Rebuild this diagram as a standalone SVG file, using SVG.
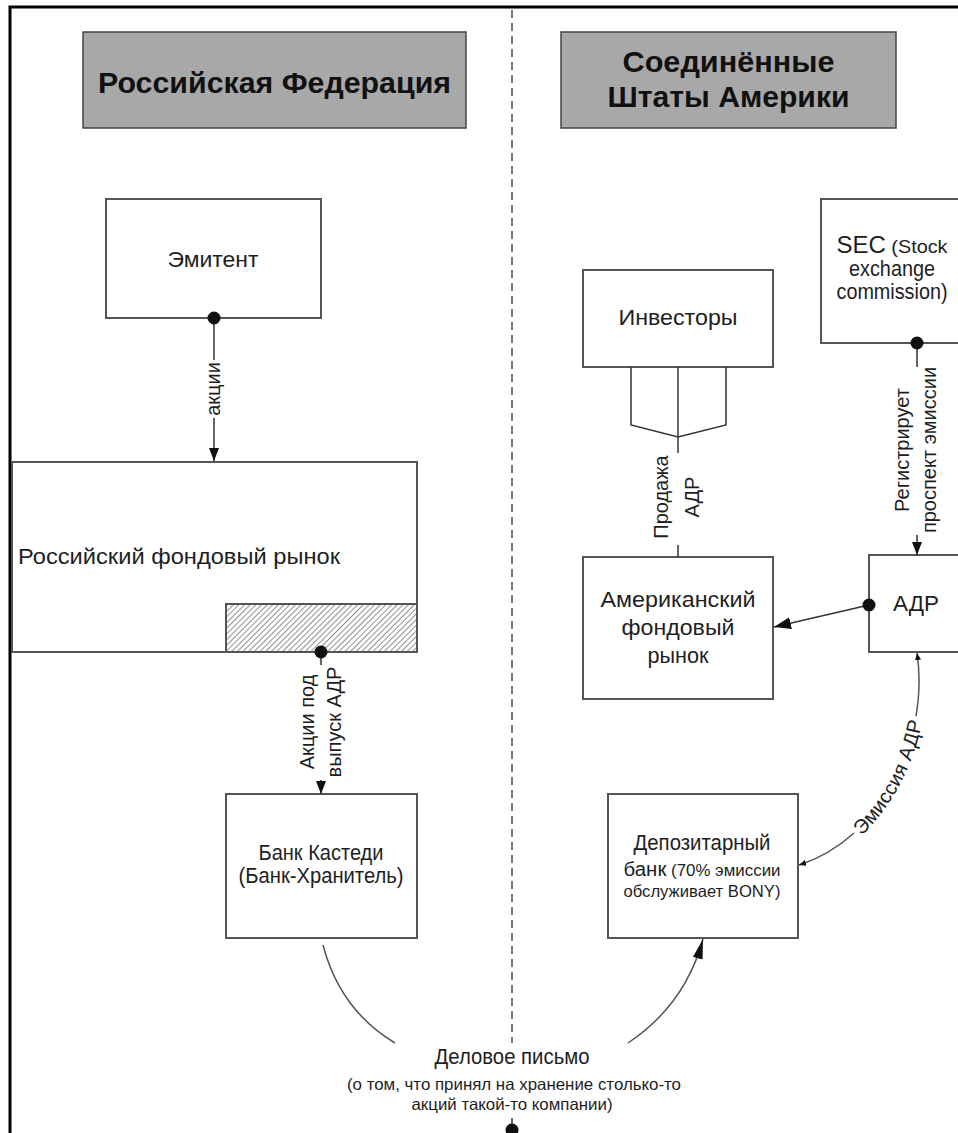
<svg xmlns="http://www.w3.org/2000/svg" width="958" height="1133" viewBox="0 0 958 1133">
<style>
.t{font-family:"Liberation Sans",Arial,sans-serif;font-size:22px;fill:#1e1e1e}
.s{font-size:16.5px}
.l{font-size:20px}
.h{font-family:"Liberation Sans",Arial,sans-serif;font-size:30px;font-weight:bold;fill:#111}
.box{fill:#fff;stroke:#555;stroke-width:2}
.hdr{fill:#a8a8a8;stroke:#444;stroke-width:1.5}
.c{fill:none;stroke:#333;stroke-width:1.5}
.cv{fill:none;stroke:#555;stroke-width:1.5}
.bg{fill:#fff}
.dot{fill:#111}
.halo{fill:#fff;stroke:#fff;stroke-width:10;stroke-linejoin:round}
</style>
<defs>
<pattern id="hatch" patternUnits="userSpaceOnUse" width="4" height="4" patternTransform="rotate(45)">
<line x1="0" y1="0" x2="0" y2="4" stroke="#222" stroke-width="1"/>
</pattern>
<marker id="arr" markerUnits="userSpaceOnUse" markerWidth="13" markerHeight="10" refX="13" refY="5" orient="auto" viewBox="0 0 13 10">
<path d="M0 0 L13 5 L0 10 Z" fill="#111"/>
</marker>
<marker id="arrL" markerUnits="userSpaceOnUse" markerWidth="17" markerHeight="12" refX="17" refY="6" orient="auto" viewBox="0 0 17 12">
<path d="M0 0 L17 6 L0 12 Z" fill="#111"/>
</marker>
<marker id="arrC" markerUnits="userSpaceOnUse" markerWidth="20" markerHeight="10" refX="20" refY="5" orient="auto" viewBox="0 0 20 10">
<path d="M0 0 L20 5 L0 10 Z" fill="#111"/>
</marker>
<marker id="arrS" markerUnits="userSpaceOnUse" markerWidth="7" markerHeight="6" refX="7" refY="3" orient="auto" viewBox="0 0 7 6">
<path d="M0 0 L7 3 L0 6 Z" fill="#111"/>
</marker>
<marker id="arrSs" markerUnits="userSpaceOnUse" markerWidth="7" markerHeight="6" refX="0" refY="3" orient="auto" viewBox="0 0 7 6">
<path d="M7 0 L0 3 L7 6 Z" fill="#111"/>
</marker>
</defs>
<rect width="958" height="1133" fill="#fff"/>
<path d="M10 1133 V7 H958" fill="none" stroke="#000" stroke-width="3"/>
<line x1="512" y1="10" x2="512" y2="1043" stroke="#777" stroke-width="2" stroke-dasharray="8 5"/>

<g id="hdr-ru">
<rect class="hdr" x="83" y="32" width="383" height="96"/>
<text class="h" x="274.5" y="93" text-anchor="middle" textLength="353" lengthAdjust="spacingAndGlyphs">Российская Федерация</text>
</g>
<g id="hdr-us">
<rect class="hdr" x="561" y="32" width="335" height="96"/>
<text class="h" x="728.5" y="72" text-anchor="middle" textLength="212" lengthAdjust="spacingAndGlyphs">Соединённые</text>
<text class="h" x="728.5" y="107" text-anchor="middle" textLength="242" lengthAdjust="spacingAndGlyphs">Штаты Америки</text>
</g>

<g id="emitent">
<rect class="box" x="106" y="199" width="215" height="119"/>
<text class="t" x="213" y="267" text-anchor="middle" textLength="91" lengthAdjust="spacingAndGlyphs">Эмитент</text>
</g>
<g id="ru-market">
<rect class="box" x="12" y="462" width="405" height="190"/>
<rect x="226" y="604" width="191" height="48" fill="url(#hatch)" stroke="#555" stroke-width="2"/>
<text class="t" x="18" y="564" textLength="322" lengthAdjust="spacingAndGlyphs">Российский фондовый рынок</text>
</g>
<g id="custody">
<rect class="box" x="226" y="794" width="191" height="144"/>
<text class="t" x="321" y="860" text-anchor="middle" textLength="125" lengthAdjust="spacingAndGlyphs">Банк Кастеди</text>
<text class="t" x="321" y="883" text-anchor="middle" textLength="165" lengthAdjust="spacingAndGlyphs">(Банк-Хранитель)</text>
</g>
<g id="investors">
<rect class="box" x="583" y="270" width="190" height="97"/>
<text class="t" x="678" y="325" text-anchor="middle" textLength="119" lengthAdjust="spacingAndGlyphs">Инвесторы</text>
</g>
<g id="sec">
<rect class="box" x="821" y="199" width="200" height="144"/>
<text class="t" x="892" y="253" text-anchor="middle" textLength="111" lengthAdjust="spacingAndGlyphs"><tspan font-size="23">SEC</tspan><tspan font-size="19"> (Stock</tspan></text>
<text class="t" x="892" y="276" text-anchor="middle" font-size="18" textLength="86" lengthAdjust="spacingAndGlyphs">exchange</text>
<text class="t" x="892" y="299" text-anchor="middle" font-size="18" textLength="111" lengthAdjust="spacingAndGlyphs">commission)</text>
</g>
<g id="us-market">
<rect class="box" x="583" y="557" width="190" height="142"/>
<text class="t" x="678" y="607" text-anchor="middle" textLength="155" lengthAdjust="spacingAndGlyphs">Американский</text>
<text class="t" x="678" y="635" text-anchor="middle" textLength="113" lengthAdjust="spacingAndGlyphs">фондовый</text>
<text class="t" x="678" y="663" text-anchor="middle" textLength="61" lengthAdjust="spacingAndGlyphs">рынок</text>
</g>
<g id="adr">
<rect class="box" x="869" y="555" width="200" height="97"/>
<text class="t" x="916" y="611" text-anchor="middle" textLength="46" lengthAdjust="spacingAndGlyphs">АДР</text>
</g>
<g id="depositary">
<rect class="box" x="608" y="794" width="190" height="144"/>
<text class="t" x="702" y="850" text-anchor="middle" font-size="20" textLength="137" lengthAdjust="spacingAndGlyphs">Депозитарный</text>
<text class="t" x="702" y="876" text-anchor="middle" textLength="157" lengthAdjust="spacingAndGlyphs"><tspan font-size="20">банк</tspan><tspan font-size="16.5"> (70% эмиссии</tspan></text>
<text class="t s" x="702" y="897" text-anchor="middle" textLength="157" lengthAdjust="spacingAndGlyphs">обслуживает BONY)</text>
</g>
<g id="letter">
<text class="t" x="512" y="1064" text-anchor="middle" font-size="20" textLength="155" lengthAdjust="spacingAndGlyphs">Деловое письмо</text>
<text class="t s" x="514" y="1090" text-anchor="middle" textLength="334" lengthAdjust="spacingAndGlyphs">(о том, что принял на хранение столько-то</text>
<text class="t s" x="512" y="1110" text-anchor="middle" textLength="201" lengthAdjust="spacingAndGlyphs">акций такой-то компании)</text>
</g>

<g id="connectors">
<line class="c" x1="214" y1="318" x2="214" y2="461" marker-end="url(#arr)"/>
<circle class="dot" cx="214" cy="318" r="6.5"/>
<rect class="bg" x="205" y="360" width="18" height="58"/>
<g transform="translate(214,389) rotate(-90)"><text class="t l" x="0" y="6" text-anchor="middle">акции</text></g>

<line class="c" x1="321" y1="652" x2="321" y2="794" marker-end="url(#arr)"/>
<circle class="dot" cx="321" cy="652" r="6.5"/>
<rect class="bg" x="299" y="665" width="46" height="115"/>
<g transform="translate(321,722) rotate(-90)">
<text class="t l" x="0" y="-7" text-anchor="middle">Акции под</text>
<text class="t l" x="0" y="20" text-anchor="middle">выпуск АДР</text>
</g>

<path class="c" d="M631 367 V425 L678 437 L726 425 V367"/>
<line class="c" x1="678" y1="367" x2="678" y2="557"/>
<rect class="bg" x="651" y="453" width="50" height="92"/>
<g transform="translate(678,497) rotate(-90)">
<text class="t l" x="0" y="-10" text-anchor="middle">Продажа</text>
<text class="t l" x="0" y="21" text-anchor="middle">АДР</text>
</g>

<line class="c" x1="917" y1="343" x2="917" y2="555" marker-end="url(#arr)"/>
<circle class="dot" cx="917" cy="343" r="6.5"/>
<rect class="bg" x="893" y="367" width="48" height="168"/>
<g transform="translate(917,450) rotate(-90)">
<text class="t l" x="0" y="-8" text-anchor="middle">Регистрирует</text>
<text class="t l" x="0" y="19" text-anchor="middle">проспект эмиссии</text>
</g>

<line class="c" x1="869" y1="605" x2="774" y2="627" marker-end="url(#arrL)"/>
<circle class="dot" cx="869" cy="605" r="6.5"/>

<path id="emis" class="cv" d="M799 865 C880 840 930 740 917 653" marker-start="url(#arrSs)" marker-end="url(#arrS)"/>
<text class="t l halo" dy="7"><textPath href="#emis" startOffset="50%" text-anchor="middle">Эмиссия АДР</textPath></text>
<text class="t l" dy="7"><textPath href="#emis" startOffset="50%" text-anchor="middle">Эмиссия АДР</textPath></text>

<path class="cv" d="M323 945 Q340 1010 395 1043"/>
<path class="cv" d="M628 1043 Q685 1005 703 939" marker-end="url(#arrC)"/>

<line class="c" x1="512" y1="1118" x2="512" y2="1128"/>
<circle class="dot" cx="512" cy="1130" r="6.5"/>
</g>
</svg>
